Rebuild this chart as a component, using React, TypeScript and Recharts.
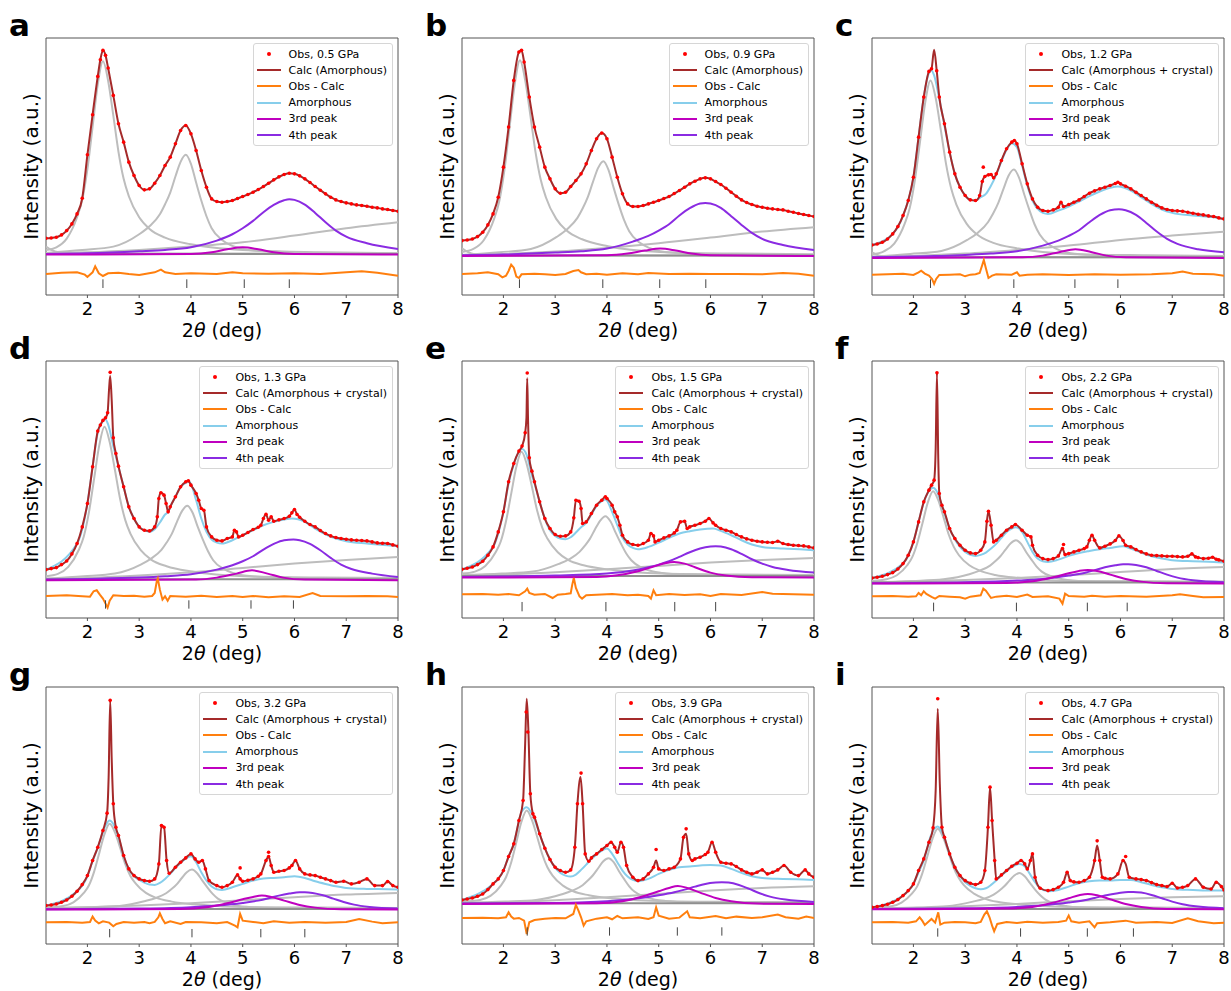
import React from "react"
import { ComposedChart, Line, XAxis, YAxis, ReferenceLine, ReferenceArea, Legend } from "recharts"

// [2θ (deg), intensity (a.u.), flag] — flag 1 = fit point with no observed dot
type Pt = number[]

const FONT = "DejaVu Sans, sans-serif"
const X_TICKS = [2, 3, 4, 5, 6, 7, 8]
const LETTERS = ["a", "b", "c", "d", "e", "f", "g", "h", "i"]
const PRESSURES = ["0.5", "0.9", "1.2", "1.3", "1.5", "2.2", "3.2", "3.9", "4.7"]

const OBS = "#ff0000"
const CALC = "#a52a2a"
const RESID = "#ff7f0e"
const AMORPH = "#87ceeb"
const THIRD = "#bf00bf"
const FOURTH = "#8a2be2"
const GRAY = "#bdbdbd"
const GRAY_BASE = "#8f8f8f"

// ---------- a : 0.5 GPa ----------
const calcA: Pt[] = [[1.2,170],[1.3,171],[1.4,173],[1.5,180],[1.6,193],[1.7,213],[1.8,243],[1.9,290],[2.0,420],[2.1,540],[2.2,655],[2.25,705],[2.3,733],[2.35,718],[2.4,680],[2.5,598],[2.6,513],[2.7,458],[2.8,398],[2.9,358],[3.0,328],[3.1,315],[3.2,318],[3.3,335],[3.4,358],[3.5,388],[3.6,413],[3.7,453],[3.8,493],[3.9,508],[4.0,483],[4.1,433],[4.2,373],[4.3,323],[4.4,288],[4.5,280],[4.6,278],[4.7,280],[4.8,283],[4.9,289],[5.0,295],[5.1,301],[5.2,308],[5.3,316],[5.4,325],[5.5,335],[5.6,345],[5.7,354],[5.8,361],[5.9,365],[6.0,363],[6.1,357],[6.2,348],[6.3,337],[6.4,325],[6.5,314],[6.6,303],[6.7,293],[6.8,285],[6.9,280],[7.0,276],[7.1,273],[7.2,270],[7.3,268],[7.4,266],[7.5,263],[7.6,261],[7.7,258],[7.8,256],[7.9,253],[8.0,251]]
const leftA: Pt[] = [[1.2,145],[1.3,135],[1.45,128],[1.8,125],[8,124]]
const gray1A: Pt[] = [[1.2,135],[1.4,143],[1.6,169],[1.8,233],[1.9,285],[2.0,377],[2.1,504],[2.2,631],[2.3,700],[2.4,642],[2.5,538],[2.6,429],[2.7,348],[2.8,296],[3.0,233],[3.2,198],[3.5,172],[4.0,152],[5.0,135],[6.5,128],[8.0,125]]
const gray2A: Pt[] = [[1.2,126],[1.9,135],[2.5,145],[3.0,182],[3.2,206],[3.4,242],[3.5,272],[3.6,307],[3.7,355],[3.8,399],[3.9,420],[4.0,393],[4.1,337],[4.2,283],[4.3,236],[4.4,200],[4.6,165],[4.8,147],[5.0,138],[5.5,130],[6.5,126],[8.0,124]]
const bgA: Pt[] = [[1.2,125],[2,128],[3,135],[4,145],[5,158],[6,178],[7,200],[8,218]]
const thirdA: Pt[] = [[1.2,121],[4.0,123],[4.4,128],[4.7,137],[5.0,143],[5.3,137],[5.6,128],[6.0,123],[8,121]]
const fourthA: Pt[] = [[1.2,123],[2,125],[3,131],[3.5,135],[4,143],[4.5,163],[4.8,182],[5.0,200],[5.2,222],[5.4,248],[5.6,270],[5.8,284],[5.9,287],[6.0,285],[6.2,271],[6.4,246],[6.6,218],[6.8,193],[7.0,175],[7.4,155],[8.0,138]]
const residA: Pt[] = [[1.2,63],[1.5,67],[1.8,68],[1.95,61],[2.0,54],[2.1,68],[2.15,86],[2.22,65],[2.3,57],[2.4,65],[2.6,67],[2.8,63],[3.0,60],[3.3,68],[3.42,76],[3.5,68],[3.7,63],[4.0,65],[4.5,63],[4.8,68],[5.0,65],[5.5,64],[6.0,65],[6.5,63],[7.0,68],[7.3,71],[7.6,67],[8.0,58]]
const marksA = [2.30, 3.92, 5.03, 5.90]

// ---------- b : 0.9 GPa ----------
const calcB: Pt[] = [[1.2,163],[1.3,165],[1.4,168],[1.5,175],[1.6,188],[1.7,210],[1.8,243],[1.9,293],[2.0,383],[2.1,503],[2.2,643],[2.3,728],[2.35,733],[2.4,698],[2.5,593],[2.6,503],[2.7,443],[2.8,383],[2.9,348],[3.0,318],[3.1,305],[3.2,308],[3.3,325],[3.4,343],[3.5,363],[3.6,393],[3.7,433],[3.8,468],[3.9,485],[4.0,468],[4.1,413],[4.2,353],[4.3,303],[4.4,273],[4.5,265],[4.6,265],[4.7,268],[4.8,273],[4.9,278],[5.0,283],[5.1,289],[5.2,295],[5.3,304],[5.4,313],[5.5,323],[5.6,333],[5.7,341],[5.8,348],[5.9,351],[6.0,348],[6.1,340],[6.2,331],[6.3,320],[6.4,308],[6.5,296],[6.6,285],[6.7,277],[6.8,271],[6.9,266],[7.0,263],[7.1,260],[7.2,258],[7.3,256],[7.4,255],[7.5,251],[7.6,248],[7.7,244],[7.8,241],[7.9,238],[8.0,235]]
const leftB: Pt[] = [[1.2,140],[1.3,130],[1.45,122],[1.8,119],[8,118]]
const gray1B: Pt[] = [[1.2,129],[1.42,138],[1.62,164],[1.82,228],[1.92,281],[2.02,375],[2.12,504],[2.22,633],[2.32,703],[2.42,644],[2.52,539],[2.62,428],[2.72,346],[2.82,293],[3.02,228],[3.22,193],[3.52,167],[4.02,146],[5.02,129],[6.5,124],[8,122]]
const gray2B: Pt[] = [[1.2,120],[1.93,128],[2.53,138],[3.03,174],[3.23,197],[3.43,231],[3.53,259],[3.63,293],[3.73,339],[3.83,381],[3.93,401],[4.03,375],[4.13,321],[4.23,270],[4.33,225],[4.43,191],[4.63,157],[4.83,140],[5.03,131],[5.53,124],[6.53,120],[8,118]]
const bgB: Pt[] = [[1.2,120],[2,123],[3,130],[4,141],[5,155],[6,172],[7,190],[8,203]]
const thirdB: Pt[] = [[1.2,117],[4.0,119],[4.4,124],[4.73,133],[5.03,139],[5.33,133],[5.63,124],[6.0,119],[8,117]]
const fourthB: Pt[] = [[1.2,119],[2,121],[3,127],[3.5,131],[4,139],[4.5,160],[4.8,177],[5.0,193],[5.2,212],[5.4,238],[5.6,260],[5.8,274],[5.9,276],[6.0,274],[6.2,261],[6.4,236],[6.6,210],[6.8,186],[7.0,168],[7.4,150],[8.0,135]]
const residB: Pt[] = [[1.2,63],[1.5,65],[1.7,68],[1.9,62],[1.98,53],[2.05,58],[2.1,72],[2.15,91],[2.2,82],[2.25,55],[2.3,51],[2.35,62],[2.6,64],[2.8,62],[3.0,60],[3.2,63],[3.35,72],[3.45,75],[3.5,68],[3.6,62],[3.8,64],[4.0,61],[4.3,65],[4.6,62],[4.8,66],[5.2,63],[5.6,64],[6.0,63],[6.5,63],[7.0,62],[7.4,66],[7.7,64],[8.0,58]]
const marksB = [2.31, 3.92, 5.02, 5.91]

// ---------- c : 1.2 GPa ----------
const calcC: Pt[] = [[1.2,150],[1.3,153],[1.4,158],[1.5,168],[1.6,183],[1.7,205],[1.8,238],[1.9,283],[2.0,353],[2.1,473],[2.2,593],[2.3,670],[2.35,678],[2.4,735,1],[2.45,672],[2.5,593],[2.6,513],[2.7,428],[2.8,363],[2.9,323],[3.0,298],[3.1,285],[3.2,283],[3.28,298],[3.33,340],[3.38,355],[3.45,360],[3.5,361],[3.55,351],[3.6,363],[3.7,403],[3.8,438],[3.9,458],[3.95,463],[4.0,453],[4.1,393],[4.2,333],[4.3,288],[4.4,263],[4.5,253],[4.6,251],[4.7,255],[4.8,263],[4.85,278],[4.9,265],[5.0,271],[5.1,278],[5.2,285],[5.3,295],[5.4,305],[5.5,312],[5.6,318],[5.7,323],[5.8,328],[5.9,334],[5.95,338],[6.0,333],[6.1,326],[6.2,318],[6.3,308],[6.4,298],[6.5,288],[6.6,278],[6.7,269],[6.8,261],[6.9,256],[7.0,253],[7.1,252],[7.2,251],[7.3,248],[7.4,245],[7.5,242],[7.6,240],[7.7,237],[7.8,235],[7.9,231],[8.0,228]]
const obsExtraC: Pt[] = [[3.35,383]]
const amorphC: Pt[] = [[1.2,150],[1.6,183],[1.8,238],[2.0,353],[2.1,473],[2.2,593],[2.3,665],[2.35,673],[2.4,658],[2.5,588],[2.6,508],[2.7,428],[2.8,363],[2.9,323],[3.0,298],[3.1,285],[3.2,283],[3.3,293],[3.4,303],[3.5,328],[3.6,360],[3.7,400],[3.8,436],[3.9,455],[4.0,443],[4.1,388],[4.2,328],[4.3,283],[4.4,258],[4.5,246],[4.6,243],[4.8,253],[5.0,265],[5.2,280],[5.4,296],[5.6,310],[5.8,321],[5.95,325],[6.2,313],[6.4,293],[6.6,273],[6.8,256],[7.0,246],[7.4,238],[7.8,233],[8.0,228]]
const leftC: Pt[] = [[1.2,128],[1.35,118],[1.6,114],[8,113]]
const gray1C: Pt[] = [[1.2,122],[1.43,131],[1.63,154],[1.83,213],[1.93,261],[2.03,346],[2.13,462],[2.23,579],[2.33,643],[2.43,590],[2.53,494],[2.63,393],[2.73,319],[2.83,271],[3.03,213],[3.23,181],[3.53,157],[4.03,139],[5.03,123],[6.5,119],[8,117]]
const gray2C: Pt[] = [[1.2,115],[1.94,123],[2.54,132],[3.04,165],[3.24,186],[3.44,218],[3.54,244],[3.64,276],[3.74,318],[3.84,358],[3.94,376],[4.04,352],[4.14,302],[4.24,255],[4.34,212],[4.44,181],[4.64,149],[4.84,133],[5.04,125],[5.54,119],[6.54,115],[8,113]]
const bgC: Pt[] = [[1.2,114],[2,117],[3,124],[4,135],[5,148],[6,165],[7,178],[8,190]]
const thirdC: Pt[] = [[1.2,111],[4.1,113],[4.5,118],[4.83,129],[5.13,137],[5.43,129],[5.73,118],[6.1,113],[8,111]]
const fourthC: Pt[] = [[1.2,113],[2,115],[3,120],[3.5,124],[4,131],[4.5,148],[4.8,163],[5.0,177],[5.2,194],[5.4,218],[5.6,240],[5.8,254],[5.97,257],[6.1,254],[6.3,240],[6.5,216],[6.7,190],[6.9,168],[7.1,153],[7.5,137],[8.0,128]]
const residC: Pt[] = [[1.2,61],[1.5,62],[1.8,64],[2.0,60],[2.1,68],[2.15,73],[2.22,64],[2.3,58],[2.36,48],[2.4,33],[2.44,48],[2.5,60],[2.7,61],[2.9,62],[3.0,56],[3.1,61],[3.2,62],[3.28,66],[3.33,90],[3.36,105],[3.4,80],[3.45,51],[3.52,58],[3.6,62],[3.9,61],[4.0,68],[4.05,58],[4.2,61],[4.5,62],[5.0,60],[5.5,62],[6.0,61],[6.6,62],[7.0,65],[7.2,70],[7.4,64],[7.8,62],[8.0,58]]
const marksC = [2.33, 3.94, 5.12, 5.95]

// ---------- d : 1.3 GPa ----------
const calcD: Pt[] = [[1.2,145],[1.3,148],[1.4,151],[1.5,160],[1.6,171],[1.7,192],[1.8,223],[1.9,273],[2.0,343],[2.1,453],[2.2,560],[2.25,578],[2.3,592],[2.35,600],[2.39,615],[2.42,690,1],[2.44,725,1],[2.47,650,1],[2.5,540],[2.55,493],[2.6,455],[2.7,393],[2.8,333],[2.9,298],[3.0,273],[3.1,263],[3.2,261],[3.3,273],[3.35,303],[3.38,358],[3.42,375],[3.48,368],[3.52,343],[3.56,318],[3.6,333],[3.7,363],[3.8,393],[3.9,408],[3.95,411],[4.0,398],[4.1,373],[4.15,353],[4.2,328],[4.25,323],[4.3,273],[4.4,243],[4.5,233],[4.6,231],[4.7,238],[4.8,243],[4.84,263],[4.88,258],[4.92,243],[5.0,248],[5.1,256],[5.2,265],[5.3,272],[5.35,278],[5.4,298],[5.45,311],[5.5,293],[5.55,303],[5.6,290],[5.7,294],[5.8,298],[5.9,305],[5.95,315],[6.0,325],[6.05,310],[6.1,302],[6.2,290],[6.3,280],[6.4,273],[6.5,262],[6.6,253],[6.7,246],[6.8,241],[6.9,238],[7.0,236],[7.1,234],[7.2,233],[7.3,232],[7.4,231],[7.5,228],[7.6,225],[7.7,224],[7.8,223],[7.9,219],[8.0,215]]
const obsExtraD: Pt[] = [[2.44,736]]
const amorphD: Pt[] = [[1.2,145],[1.8,223],[2.0,343],[2.1,453],[2.2,556],[2.3,590],[2.34,596],[2.4,580],[2.5,515],[2.6,453],[2.7,393],[2.8,333],[2.9,298],[3.0,273],[3.1,263],[3.2,258],[3.3,266],[3.4,286],[3.5,310],[3.56,318],[3.6,333],[3.7,363],[3.8,393],[3.9,405],[3.97,408],[4.1,353],[4.2,298],[4.3,258],[4.4,235],[4.5,226],[4.6,223],[4.8,233],[5.0,248],[5.2,263],[5.4,278],[5.6,288],[5.8,295],[5.95,298],[6.2,288],[6.4,268],[6.6,251],[6.8,238],[7.0,230],[7.4,223],[7.8,218],[8.0,215]]
const gray1D: Pt[] = [[1.2,125],[1.43,132],[1.63,153],[1.83,203],[1.93,244],[2.03,317],[2.13,418],[2.23,518],[2.33,573],[2.43,527],[2.53,445],[2.63,358],[2.73,294],[2.83,253],[3.03,203],[3.23,175],[3.53,155],[4.03,139],[5.03,125],[6.5,121],[8,120]]
const gray2D: Pt[] = [[1.2,118],[1.93,125],[2.53,133],[3.03,160],[3.23,178],[3.43,204],[3.53,226],[3.63,252],[3.73,288],[3.83,321],[3.93,336],[4.03,316],[4.13,274],[4.23,235],[4.33,200],[4.43,173],[4.63,147],[4.83,134],[5.03,127],[5.53,122],[6.53,118],[8,117]]
const bgD: Pt[] = [[1.2,117],[2,120],[3,127],[4,137],[5,150],[6,163],[7,174],[8,183]]
const thirdD: Pt[] = [[1.2,113],[4.1,115],[4.5,121],[4.88,133],[5.18,143],[5.48,133],[5.78,121],[6.2,115],[8,113]]
const fourthD: Pt[] = [[1.2,115],[2,117],[3,121],[3.5,125],[4,131],[4.5,145],[4.8,158],[5.0,170],[5.2,185],[5.4,205],[5.6,222],[5.8,233],[5.98,235],[6.1,233],[6.3,222],[6.5,203],[6.7,180],[6.9,160],[7.1,147],[7.5,133],[8.0,123]]
const residD: Pt[] = [[1.2,66],[1.6,68],[1.9,65],[2.05,64],[2.12,80],[2.18,83],[2.24,70],[2.3,58],[2.36,40],[2.39,31],[2.43,52],[2.5,68],[2.7,66],[2.9,67],[3.1,64],[3.25,66],[3.3,75],[3.34,110],[3.36,118],[3.4,85],[3.45,55],[3.5,65],[3.55,52],[3.6,66],[3.9,64],[4.2,67],[4.5,63],[4.8,66],[5.0,63],[5.2,66],[5.5,62],[5.8,65],[6.1,63],[6.35,75],[6.5,66],[7.0,65],[7.4,66],[7.8,65],[8.0,63]]
const marksD = [2.35, 3.96, 5.16, 5.98]

// ---------- e : 1.5 GPa ----------
const calcE: Pt[] = [[1.2,146],[1.3,149],[1.4,153],[1.5,160],[1.6,170],[1.7,188],[1.8,213],[1.9,258],[2.0,318],[2.1,408],[2.2,463],[2.3,500],[2.36,515],[2.42,555],[2.445,600,1],[2.46,718,1],[2.475,600,1],[2.5,480],[2.55,440],[2.6,408],[2.7,348],[2.8,298],[2.9,268],[3.0,250],[3.1,245],[3.2,246],[3.3,258],[3.36,300],[3.4,353],[3.46,350],[3.5,328],[3.53,283],[3.6,288],[3.7,313],[3.8,338],[3.9,353],[3.97,363],[4.0,358],[4.1,338],[4.15,318],[4.2,303],[4.25,278],[4.3,248],[4.4,228],[4.5,220],[4.6,218],[4.7,223],[4.8,233],[4.85,253],[4.9,246],[4.93,228],[5.0,233],[5.1,240],[5.2,246],[5.3,255],[5.35,263],[5.42,288],[5.5,290],[5.55,268],[5.6,273],[5.7,278],[5.8,283],[5.9,290],[5.97,298],[6.05,285],[6.1,278],[6.2,268],[6.3,263],[6.4,258],[6.5,250],[6.6,243],[6.7,237],[6.8,233],[6.9,230],[7.0,228],[7.1,227],[7.2,226],[7.3,230],[7.4,223],[7.5,220],[7.6,218],[7.7,217],[7.8,216],[7.9,213],[8.0,210]]
const obsExtraE: Pt[] = [[2.46,734]]
const amorphE: Pt[] = [[1.2,146],[1.8,213],[2.0,318],[2.1,403],[2.2,460],[2.3,498],[2.36,506],[2.45,488],[2.55,428],[2.6,403],[2.7,348],[2.8,298],[2.9,263],[3.0,246],[3.1,238],[3.2,236],[3.3,242],[3.4,256],[3.5,272],[3.6,285],[3.7,310],[3.8,336],[3.9,350],[3.97,355],[4.1,318],[4.2,278],[4.3,240],[4.4,220],[4.5,210],[4.6,206],[4.8,213],[5.0,226],[5.2,240],[5.4,253],[5.6,260],[5.8,265],[6.05,268],[6.2,261],[6.4,248],[6.6,233],[6.8,220],[7.0,213],[7.4,208],[7.8,205],[8.0,203]]
const gray1E: Pt[] = [[1.2,133],[1.45,139],[1.65,156],[1.85,197],[1.95,230],[2.05,290],[2.15,372],[2.25,453],[2.35,498],[2.45,461],[2.55,394],[2.65,323],[2.75,271],[2.85,238],[3.05,197],[3.25,174],[3.55,158],[4.05,145],[5.05,133],[6.5,130],[8,129]]
const gray2E: Pt[] = [[1.2,128],[1.97,133],[2.57,139],[3.07,162],[3.27,176],[3.47,198],[3.57,216],[3.67,237],[3.77,266],[3.87,292],[3.97,305],[4.07,289],[4.17,255],[4.27,223],[4.37,194],[4.47,173],[4.67,151],[4.87,140],[5.07,135],[5.57,130],[6.57,127],[8,127]]
const bgE: Pt[] = [[1.2,127],[2,130],[3,137],[4,146],[5,156],[6,166],[7,174],[8,180]]
const thirdE: Pt[] = [[1.2,121],[3.8,123],[4.2,128],[4.6,140],[4.9,154],[5.1,163],[5.3,168],[5.5,163],[5.7,152],[6.0,136],[6.3,127],[6.8,122],[8,121]]
const fourthE: Pt[] = [[1.2,123],[2,124],[3,127],[4,133],[4.5,142],[4.8,152],[5.0,160],[5.2,170],[5.4,183],[5.6,197],[5.8,208],[6.0,214],[6.1,215],[6.2,214],[6.4,206],[6.6,192],[6.8,176],[7.0,163],[7.2,153],[7.5,144],[8.0,136]]
const residE: Pt[] = [[1.2,71],[1.6,72],[1.9,70],[2.1,72],[2.3,68],[2.42,80],[2.46,88],[2.5,75],[2.6,70],[2.8,72],[2.95,60],[3.05,70],[3.2,72],[3.3,74],[3.33,100],[3.36,120],[3.4,90],[3.47,65],[3.52,58],[3.6,68],[3.8,70],[4.1,72],[4.4,68],[4.6,70],[4.8,66],[4.85,58],[4.9,83],[4.95,68],[5.2,72],[5.5,69],[5.8,71],[6.0,66],[6.2,72],[6.6,69],[7.0,78],[7.2,73],[7.6,71],[8.0,70]]
const marksE = [2.36, 3.98, 5.31, 6.10]

// ---------- f : 2.2 GPa ----------
const calcF: Pt[] = [[1.2,120],[1.3,122],[1.4,125],[1.5,130],[1.6,136],[1.7,147],[1.8,163],[1.9,188],[2.0,228],[2.1,288],[2.2,348],[2.3,383],[2.35,398],[2.4,413],[2.43,508,1],[2.455,733,1],[2.48,478,1],[2.5,373],[2.55,338],[2.6,318],[2.7,268],[2.8,238],[2.9,218],[3.0,203],[3.1,195],[3.2,193],[3.3,203],[3.38,228],[3.42,290],[3.45,320],[3.5,278],[3.55,228],[3.6,233],[3.7,248],[3.8,263],[3.9,273],[3.97,280],[4.1,263],[4.2,248],[4.27,243],[4.3,218],[4.4,188],[4.5,178],[4.6,175],[4.7,178],[4.8,186],[4.88,208],[4.93,190],[5.0,193],[5.1,198],[5.2,203],[5.3,208],[5.35,213],[5.4,233],[5.45,248],[5.5,233],[5.6,210],[5.7,215],[5.8,222],[5.9,232],[5.97,246],[6.05,232],[6.1,218],[6.2,213],[6.3,205],[6.4,198],[6.5,192],[6.6,188],[6.7,187],[6.8,186],[6.9,185],[7.0,185],[7.1,184],[7.2,183],[7.3,185],[7.38,192],[7.45,183],[7.5,181],[7.6,178],[7.7,179],[7.78,182],[7.85,176],[7.9,174],[8.0,170]]
const obsExtraF: Pt[] = [[2.455,735],[4.9,220]]
const amorphF: Pt[] = [[1.2,120],[1.8,163],[2.0,228],[2.1,288],[2.2,346],[2.3,380],[2.38,390],[2.45,380],[2.55,338],[2.7,268],[2.8,236],[2.9,213],[3.0,198],[3.1,189],[3.2,186],[3.3,189],[3.4,196],[3.5,208],[3.6,222],[3.7,240],[3.8,258],[3.9,268],[3.98,272],[4.1,258],[4.2,228],[4.3,198],[4.4,178],[4.5,170],[4.6,168],[4.8,175],[5.0,186],[5.2,195],[5.4,201],[5.6,206],[5.8,210],[6.05,215],[6.2,208],[6.4,196],[6.6,185],[6.8,178],[7.0,173],[7.4,170],[7.8,168],[8.0,166]]
const gray1F: Pt[] = [[1.2,111],[1.48,116],[1.68,128],[1.88,158],[1.98,183],[2.08,227],[2.18,287],[2.28,347],[2.38,380],[2.48,353],[2.58,303],[2.68,251],[2.78,213],[2.88,188],[3.08,158],[3.28,142],[3.58,129],[4.08,120],[5.08,111],[6.5,110],[8,109]]
const gray2F: Pt[] = [[1.2,107],[1.98,111],[2.58,116],[3.08,131],[3.28,142],[3.48,157],[3.58,170],[3.68,185],[3.78,205],[3.88,224],[3.98,233],[4.08,222],[4.18,197],[4.28,175],[4.38,154],[4.48,139],[4.68,124],[4.88,116],[5.08,112],[5.58,109],[8,107]]
const bgF: Pt[] = [[1.2,106],[2,109],[3,114],[4,120],[5,128],[6,138],[7,147],[8,153]]
const thirdF: Pt[] = [[1.2,103],[3.8,105],[4.3,110],[4.7,122],[5.0,134],[5.2,141],[5.37,144],[5.55,141],[5.8,130],[6.1,117],[6.4,109],[6.9,104],[8,103]]
const fourthF: Pt[] = [[1.2,104],[3,107],[4,112],[4.5,117],[5.0,127],[5.3,135],[5.5,143],[5.7,152],[5.9,158],[6.05,161],[6.15,161],[6.3,159],[6.5,152],[6.7,141],[6.9,130],[7.1,121],[7.4,113],[8.0,107]]
const residF: Pt[] = [[1.2,65],[1.6,66],[1.9,64],[2.05,65],[2.1,75],[2.15,68],[2.2,80],[2.25,72],[2.35,63],[2.42,58],[2.5,66],[2.7,64],[2.9,62],[3.0,58],[3.1,64],[3.3,68],[3.35,88],[3.4,82],[3.5,60],[3.6,64],[3.8,67],[4.0,63],[4.2,70],[4.3,63],[4.6,65],[4.82,58],[4.88,43],[4.93,73],[5.0,66],[5.3,64],[5.45,67],[5.7,64],[6.0,66],[6.5,64],[7.0,68],[7.15,71],[7.4,66],[7.6,62],[8.0,63]]
const marksF = [2.39, 3.99, 5.36, 6.13]

// ---------- g : 3.2 GPa ----------
const calcG: Pt[] = [[1.2,115],[1.3,117],[1.4,120],[1.5,125],[1.6,132],[1.7,143],[1.8,158],[1.9,178],[2.0,205],[2.1,250],[2.2,290],[2.3,340],[2.38,392],[2.41,500,1],[2.44,730],[2.47,550,1],[2.5,420],[2.55,350],[2.6,325],[2.7,265],[2.8,225],[2.9,205],[3.0,195],[3.1,190],[3.2,188],[3.3,195],[3.38,240],[3.43,355],[3.48,350],[3.53,250],[3.58,212],[3.7,230],[3.8,245],[3.9,258],[4.0,270],[4.08,255],[4.15,245],[4.22,250],[4.28,225],[4.35,190],[4.5,175],[4.6,170],[4.7,175],[4.8,185],[4.9,207],[4.95,195],[5.0,188],[5.1,191],[5.2,195],[5.3,203],[5.35,210],[5.45,250],[5.5,262],[5.55,235],[5.6,215],[5.7,218],[5.8,220],[5.9,228],[5.95,235],[6.02,250],[6.1,225],[6.2,210],[6.3,207],[6.4,205],[6.5,200],[6.6,195],[6.7,190],[6.8,185],[6.95,188],[7.1,180],[7.25,185],[7.4,195],[7.55,175],[7.7,175],[7.8,187],[7.9,175],[8.0,170]]
const obsExtraG: Pt[] = [[4.95,228],[5.5,275]]
const amorphG: Pt[] = [[1.2,115],[1.8,158],[1.9,175],[2.0,203],[2.1,248],[2.2,288],[2.35,355],[2.43,370],[2.5,360],[2.6,322],[2.7,263],[2.8,224],[2.9,203],[3.0,192],[3.1,184],[3.2,178],[3.3,177],[3.4,183],[3.5,195],[3.6,210],[3.7,228],[3.8,243],[3.9,256],[4.0,263],[4.1,245],[4.2,215],[4.3,190],[4.4,172],[4.5,164],[4.6,162],[4.8,170],[5.0,180],[5.2,190],[5.4,196],[5.6,198],[5.8,200],[6.0,203],[6.2,198],[6.4,188],[6.6,180],[6.8,173],[7.0,168],[7.4,165],[7.8,164],[8.0,163]]
const gray1G: Pt[] = [[1.2,109],[1.53,114],[1.73,125],[1.93,153],[2.03,176],[2.13,217],[2.23,273],[2.33,329],[2.43,360],[2.53,335],[2.63,289],[2.73,240],[2.83,204],[2.93,182],[3.13,153],[3.33,138],[3.63,127],[4.13,118],[5.13,110],[6.5,109],[8,108]]
const gray2G: Pt[] = [[1.2,106],[2.02,110],[2.62,114],[3.12,129],[3.32,138],[3.52,152],[3.62,164],[3.72,178],[3.82,197],[3.92,215],[4.02,223],[4.12,212],[4.22,190],[4.32,169],[4.42,150],[4.52,136],[4.72,122],[4.92,114],[5.12,111],[5.62,108],[8,106]]
const bgG: Pt[] = [[1.2,108],[2,110],[3,115],[4,122],[5,131],[6,140],[7,148],[8,153]]
const thirdG: Pt[] = [[1.2,103],[3.8,105],[4.3,110],[4.7,122],[5.0,134],[5.2,141],[5.37,145],[5.55,141],[5.8,130],[6.1,117],[6.4,109],[6.9,104],[8,103]]
const fourthG: Pt[] = [[1.2,104],[3,106],[4,110],[4.5,115],[5.0,123],[5.3,130],[5.5,137],[5.7,145],[5.9,151],[6.1,155],[6.2,155],[6.35,153],[6.55,146],[6.75,136],[6.95,126],[7.15,118],[7.45,111],[8.0,106]]
const residG: Pt[] = [[1.2,65],[1.6,66],[1.9,64],[2.05,66],[2.1,82],[2.15,70],[2.22,62],[2.3,68],[2.42,64],[2.5,53],[2.56,60],[2.7,66],[2.9,64],[3.1,66],[3.2,62],[3.3,66],[3.37,80],[3.4,92],[3.45,75],[3.5,62],[3.6,68],[3.8,60],[3.9,66],[4.2,65],[4.5,62],[4.7,66],[4.85,55],[4.9,50],[4.95,90],[5.0,70],[5.2,66],[5.4,62],[5.6,68],[5.9,64],[6.2,66],[6.6,64],[7.0,66],[7.25,75],[7.5,67],[7.7,62],[8.0,65]]
const marksG = [2.43, 4.02, 5.35, 6.20]

// ---------- h : 3.9 GPa ----------
const calcH: Pt[] = [[1.2,132],[1.3,135],[1.4,138],[1.5,143],[1.6,150],[1.7,163],[1.8,180],[1.9,195],[2.0,220],[2.1,262],[2.2,300],[2.3,370],[2.38,430],[2.42,600,1],[2.45,735,1],[2.48,650,1],[2.52,450],[2.57,390],[2.6,380],[2.7,330],[2.8,287],[2.9,253],[3.0,230],[3.1,220],[3.2,215],[3.3,222],[3.38,290],[3.43,420],[3.49,500,1],[3.53,420],[3.58,270],[3.65,248],[3.7,258],[3.8,270],[3.9,283],[4.0,295],[4.08,305],[4.15,290],[4.2,275],[4.27,305],[4.32,290],[4.38,235],[4.5,200],[4.6,190],[4.7,195],[4.8,210],[4.9,230],[4.95,250,1],[5.0,225],[5.1,220],[5.2,225],[5.3,230],[5.42,255],[5.48,320],[5.53,330,1],[5.58,270],[5.65,250],[5.7,255],[5.8,260],[5.9,268],[5.95,275],[6.03,305],[6.1,275],[6.2,245],[6.3,242],[6.4,240],[6.5,232],[6.6,222],[6.7,215],[6.8,210],[6.9,215],[7.0,222],[7.1,210],[7.2,215],[7.3,222],[7.42,235],[7.55,215],[7.7,205],[7.83,222],[7.9,210],[8.0,200]]
const obsExtraH: Pt[] = [[2.44,695],[2.47,635],[3.5,512],[4.95,283],[5.53,345]]
const amorphH: Pt[] = [[1.2,132],[1.8,180],[1.9,195],[2.0,220],[2.1,262],[2.2,300],[2.35,395],[2.45,410],[2.55,390],[2.7,330],[2.8,287],[2.9,253],[3.0,228],[3.1,213],[3.2,205],[3.3,202],[3.4,208],[3.5,222],[3.6,238],[3.7,255],[3.8,268],[3.9,280],[4.0,286],[4.1,270],[4.2,245],[4.3,220],[4.4,202],[4.5,192],[4.6,188],[4.8,195],[5.0,210],[5.2,222],[5.4,230],[5.6,232],[5.8,235],[6.0,237],[6.2,235],[6.4,225],[6.6,213],[6.8,203],[7.0,198],[7.4,195],[7.8,193],[8.0,192]]
const gray1H: Pt[] = [[1.2,127],[1.55,132],[1.75,144],[1.95,175],[2.05,200],[2.15,244],[2.25,305],[2.35,367],[2.45,400],[2.55,372],[2.65,322],[2.75,269],[2.85,230],[2.95,205],[3.15,175],[3.35,158],[3.65,146],[4.15,136],[5.15,128],[6.5,126],[8,125]]
const gray2H: Pt[] = [[1.2,123],[2.03,127],[2.63,132],[3.13,149],[3.33,160],[3.53,176],[3.63,190],[3.73,206],[3.83,227],[3.93,248],[4.03,257],[4.13,245],[4.23,219],[4.33,195],[4.43,173],[4.53,157],[4.73,141],[4.93,133],[5.13,129],[5.63,125],[8,123]]
const bgH: Pt[] = [[1.2,122],[2,125],[3,131],[4,140],[5,150],[6,160],[7,168],[8,173]]
const thirdH: Pt[] = [[1.2,120],[3.8,122],[4.3,128],[4.7,143],[5.0,158],[5.2,168],[5.37,174],[5.55,168],[5.8,154],[6.1,138],[6.4,128],[6.9,121],[8,120]]
const fourthH: Pt[] = [[1.2,121],[3,123],[4,128],[4.5,135],[5.0,146],[5.3,155],[5.5,163],[5.7,172],[5.9,180],[6.1,184],[6.22,185],[6.35,184],[6.55,177],[6.75,165],[6.95,152],[7.15,142],[7.45,133],[8.0,126]]
const residH: Pt[] = [[1.2,78],[1.6,79],[1.9,77],[2.05,80],[2.1,95],[2.15,82],[2.2,76],[2.3,78],[2.4,70],[2.45,30],[2.5,65],[2.6,72],[2.8,76],[3.0,78],[3.2,77],[3.35,90],[3.4,117],[3.45,100],[3.5,80],[3.55,55],[3.6,68],[3.8,76],[4.0,80],[4.1,74],[4.2,84],[4.3,77],[4.6,80],[4.8,75],[4.9,80],[4.95,110],[5.0,85],[5.2,76],[5.4,79],[5.55,98],[5.6,80],[5.8,77],[6.1,84],[6.3,77],[6.5,82],[6.8,78],[7.0,80],[7.3,88],[7.45,80],[7.7,76],[7.85,82],[8.0,78]]
const marksH = [2.46, 4.05, 5.36, 6.22]

// ---------- i : 4.7 GPa ----------
const calcI: Pt[] = [[1.2,110],[1.3,112],[1.4,115],[1.5,119],[1.6,125],[1.7,133],[1.8,145],[1.9,160],[2.0,180],[2.1,220],[2.2,255],[2.3,305],[2.38,348],[2.43,460,1],[2.47,705,1],[2.51,480,1],[2.55,350],[2.6,320],[2.7,270],[2.8,230],[2.9,205],[3.0,190],[3.1,182],[3.2,178],[3.3,185],[3.38,220],[3.44,350],[3.48,470],[3.52,370],[3.57,250],[3.6,195],[3.7,207],[3.8,220],[3.9,233],[4.0,242],[4.08,250],[4.15,240],[4.2,225],[4.26,250],[4.3,270],[4.35,200],[4.45,167],[4.6,160],[4.7,163],[4.8,170],[4.9,185],[4.97,215],[5.03,190],[5.1,186],[5.2,185],[5.3,190],[5.4,200],[5.5,250],[5.55,295,1],[5.6,250],[5.65,200],[5.7,197],[5.8,195],[5.95,210],[6.05,250],[6.1,240,1],[6.17,200],[6.3,195],[6.4,193],[6.5,190],[6.6,184],[6.7,178],[6.8,175],[6.9,172],[7.0,182],[7.1,168],[7.2,170],[7.3,175],[7.45,195],[7.6,170],[7.75,165],[7.85,185],[7.95,172],[8.0,162]]
const obsExtraI: Pt[] = [[2.47,735],[5.55,309],[6.1,262]]
const amorphI: Pt[] = [[1.2,110],[1.8,145],[2.0,180],[2.1,215],[2.2,250],[2.35,330],[2.47,352],[2.6,318],[2.7,268],[2.8,230],[2.9,204],[3.0,185],[3.1,174],[3.2,167],[3.3,164],[3.4,167],[3.5,177],[3.6,190],[3.7,205],[3.8,218],[3.9,230],[4.0,238],[4.05,240],[4.15,233],[4.25,210],[4.35,185],[4.45,167],[4.6,158],[4.8,162],[5.0,172],[5.2,182],[5.4,188],[5.6,190],[5.8,190],[6.0,192],[6.2,192],[6.4,185],[6.6,177],[6.8,170],[7.0,165],[7.4,162],[7.8,160],[8.0,160]]
const gray1I: Pt[] = [[1.2,109],[1.57,113],[1.77,124],[1.97,151],[2.07,172],[2.17,211],[2.27,263],[2.37,316],[2.47,345],[2.57,321],[2.67,278],[2.77,232],[2.87,199],[2.97,177],[3.17,151],[3.37,136],[3.67,125],[4.17,117],[5.17,110],[6.5,109],[8,108]]
const gray2I: Pt[] = [[1.2,106],[2.05,109],[2.65,113],[3.15,127],[3.35,135],[3.55,148],[3.65,159],[3.75,172],[3.85,189],[3.95,205],[4.05,213],[4.15,203],[4.25,183],[4.35,163],[4.45,146],[4.55,133],[4.75,120],[4.95,114],[5.15,110],[5.65,108],[8,106]]
const bgI: Pt[] = [[1.2,105],[2,108],[3,113],[4,120],[5,128],[6,135],[7,140],[8,143]]
const thirdI: Pt[] = [[1.2,104],[3.8,106],[4.3,111],[4.7,124],[5.0,137],[5.2,146],[5.37,150],[5.55,146],[5.8,134],[6.1,120],[6.4,111],[6.9,105],[8,104]]
const fourthI: Pt[] = [[1.2,105],[3,107],[4,111],[4.5,116],[5.0,124],[5.3,131],[5.5,138],[5.7,145],[5.95,152],[6.15,156],[6.25,156],[6.4,154],[6.6,147],[6.8,137],[7.0,127],[7.2,119],[7.5,112],[8.0,107]]
const residI: Pt[] = [[1.2,65],[1.6,66],[1.9,64],[2.05,68],[2.12,80],[2.17,70],[2.22,57],[2.3,68],[2.35,75],[2.42,64],[2.48,95],[2.52,58],[2.6,64],[2.8,66],[3.0,65],[3.2,62],[3.3,66],[3.37,88],[3.42,98],[3.47,80],[3.52,55],[3.56,38],[3.62,60],[3.8,66],[4.0,63],[4.2,67],[4.5,64],[4.8,66],[4.95,70],[5.0,85],[5.05,68],[5.2,64],[5.4,68],[5.5,50],[5.55,62],[5.8,65],[6.1,70],[6.3,64],[6.7,66],[7.0,63],[7.3,77],[7.5,68],[7.8,62],[8.0,64]]
const marksI = [2.47, 4.07, 5.36, 6.25]

// flat gray floor of each panel, and the vertical span of its peak markers
const BASES = [123, 118, 113, 116, 126, 106, 105, 122, 105]
const MARK_LO = [21, 21, 21, 28, 20, 20, 20, 25, 22]
const MARK_HI = [47, 47, 47, 53, 48, 46, 45, 50, 47]

interface PanelData {
  calc: Pt[]
  obsExtra: Pt[]
  amorph?: Pt[]
  grays: Pt[][]
  third: Pt[]
  fourth: Pt[]
  resid: Pt[]
  marks: number[]
}

const PANELS: PanelData[] = [
  { calc: calcA, obsExtra: [], grays: [leftA, gray1A, gray2A, bgA], third: thirdA, fourth: fourthA, resid: residA, marks: marksA },
  { calc: calcB, obsExtra: [], grays: [leftB, gray1B, gray2B, bgB], third: thirdB, fourth: fourthB, resid: residB, marks: marksB },
  { calc: calcC, obsExtra: obsExtraC, amorph: amorphC, grays: [leftC, gray1C, gray2C, bgC], third: thirdC, fourth: fourthC, resid: residC, marks: marksC },
  { calc: calcD, obsExtra: obsExtraD, amorph: amorphD, grays: [gray1D, gray2D, bgD], third: thirdD, fourth: fourthD, resid: residD, marks: marksD },
  { calc: calcE, obsExtra: obsExtraE, amorph: amorphE, grays: [gray1E, gray2E, bgE], third: thirdE, fourth: fourthE, resid: residE, marks: marksE },
  { calc: calcF, obsExtra: obsExtraF, amorph: amorphF, grays: [gray1F, gray2F, bgF], third: thirdF, fourth: fourthF, resid: residF, marks: marksF },
  { calc: calcG, obsExtra: obsExtraG, amorph: amorphG, grays: [gray1G, gray2G, bgG], third: thirdG, fourth: fourthG, resid: residG, marks: marksG },
  { calc: calcH, obsExtra: obsExtraH, amorph: amorphH, grays: [gray1H, gray2H, bgH], third: thirdH, fourth: fourthH, resid: residH, marks: marksH },
  { calc: calcI, obsExtra: obsExtraI, amorph: amorphI, grays: [gray1I, gray2I, bgI], third: thirdI, fourth: fourthI, resid: residI, marks: marksI },
]

// layout (px)
const PLOT_W = 352
const PLOT_H = 257
const AX_W = 44
const AX_H = 47
const M_TOP = 8
const M_RIGHT = 14
const COL_X = [46, 462, 872]
const ROW_Y = [38, 361, 687]

const toXY = (pts: Pt[]) => pts.map((p) => ({ x: p[0], y: p[1] }))

function XTitle(props: any) {
  const vb = props.viewBox
  return (
    <text x={vb.x + vb.width / 2} y={vb.y + 42} textAnchor="middle" fontSize={19} fontFamily={FONT} fill="#000">
      2<tspan fontStyle="italic">θ</tspan> (deg)
    </text>
  )
}

function YTitle(props: any) {
  const vb = props.viewBox
  const x = vb.x + vb.width - 8
  const y = vb.y + vb.height / 2
  return (
    <text x={x} y={y} transform={`rotate(-90 ${x} ${y})`} textAnchor="middle" fontSize={20} fontFamily={FONT} fill="#000">
      Intensity (a.u.)
    </text>
  )
}

function LegendBox({ idx }: { idx: number }) {
  const rows = [
    { dot: true, color: OBS, text: `Obs, ${PRESSURES[idx]} GPa` },
    { dot: false, color: CALC, text: idx < 2 ? "Calc (Amorphous)" : "Calc (Amorphous + crystal)" },
    { dot: false, color: RESID, text: "Obs - Calc" },
    { dot: false, color: AMORPH, text: "Amorphous" },
    { dot: false, color: THIRD, text: "3rd peak" },
    { dot: false, color: FOURTH, text: "4th peak" },
  ]
  return (
    <div
      style={{
        border: "1px solid #d6d6d6",
        borderRadius: 3,
        background: "rgba(255,255,255,0.85)",
        padding: "2px 5px 2px 3px",
        fontFamily: FONT,
        fontSize: 11,
        color: "#000",
      }}
    >
      {rows.map((r) => (
        <div key={r.text} style={{ display: "flex", alignItems: "center", height: 16.2, whiteSpace: "nowrap" }}>
          <svg width={24} height={8} style={{ flex: "none" }}>
            {r.dot ? <circle cx={12} cy={4} r={2} fill={r.color} /> : <line x1={0} y1={4} x2={24} y2={4} stroke={r.color} strokeWidth={2} />}
          </svg>
          <span style={{ marginLeft: 8 }}>{r.text}</span>
        </div>
      ))}
    </div>
  )
}

function PanelChart({ idx }: { idx: number }) {
  const p = PANELS[idx]
  const left = COL_X[idx % 3]
  const top = ROW_Y[Math.floor(idx / 3)]
  const base = BASES[idx]
  const obs = [...p.calc.filter((q) => q[2] !== 1), ...p.obsExtra].sort((a, b) => a[0] - b[0])
  const floor: Pt[] = [[1.2, base], [8, base]]

  return (
    <div style={{ position: "absolute", left: left - AX_W, top: top - M_TOP }}>
      <ComposedChart
        width={AX_W + PLOT_W + M_RIGHT}
        height={M_TOP + PLOT_H + AX_H}
        margin={{ top: M_TOP, right: M_RIGHT, bottom: 0, left: 0 }}
      >
        <XAxis
          type="number"
          dataKey="x"
          domain={[1.2, 8]}
          allowDataOverflow
          ticks={X_TICKS}
          interval={0}
          height={AX_H}
          axisLine={false}
          tickLine={{ stroke: "#555" }}
          tickSize={3}
          tickMargin={4}
          tick={{ fontSize: 18, fill: "#000", fontFamily: FONT }}
          label={XTitle}
        />
        <YAxis
          type="number"
          domain={[0, 770]}
          allowDataOverflow
          width={AX_W}
          tick={false}
          tickLine={false}
          axisLine={false}
          label={YTitle}
        />
        {p.grays.map((g, k) => (
          <Line key={`g${k}`} data={toXY(g)} dataKey="y" type="monotone" stroke={GRAY} strokeWidth={2} dot={false} isAnimationActive={false} />
        ))}
        <Line data={toXY(floor)} dataKey="y" type="linear" stroke={GRAY_BASE} strokeWidth={2} dot={false} isAnimationActive={false} />
        <Line data={toXY(p.fourth)} dataKey="y" type="monotone" stroke={FOURTH} strokeWidth={2} dot={false} isAnimationActive={false} />
        <Line data={toXY(p.third)} dataKey="y" type="monotone" stroke={THIRD} strokeWidth={2} dot={false} isAnimationActive={false} />
        {p.amorph && (
          <Line data={toXY(p.amorph)} dataKey="y" type="monotone" stroke={AMORPH} strokeWidth={2} dot={false} isAnimationActive={false} />
        )}
        <Line data={toXY(p.calc)} dataKey="y" type="monotone" stroke={CALC} strokeWidth={2} dot={false} isAnimationActive={false} />
        <Line
          data={toXY(obs)}
          dataKey="y"
          stroke="none"
          dot={{ r: 1.8, fill: OBS, stroke: OBS, strokeWidth: 0 }}
          isAnimationActive={false}
        />
        <Line data={toXY(p.resid)} dataKey="y" type="linear" stroke={RESID} strokeWidth={2} dot={false} isAnimationActive={false} />
        {p.marks.map((m) => (
          <ReferenceLine
            key={m}
            segment={[{ x: m, y: MARK_LO[idx] }, { x: m, y: MARK_HI[idx] }]}
            stroke="#444"
            strokeWidth={1}
          />
        ))}
        <ReferenceArea x1={1.2} x2={8} y1={0} y2={770} fill="none" stroke="#555" strokeWidth={1} ifOverflow="visible" />
        <Legend
          layout="horizontal"
          verticalAlign="middle"
          align="center"
          content={() => <LegendBox idx={idx} />}
          wrapperStyle={{ top: M_TOP + 5, right: M_RIGHT + 5, left: "auto", width: "auto", height: "auto" }}
        />
      </ComposedChart>
    </div>
  )
}

export default function App() {
  return (
    <div style={{ position: "absolute", left: 0, top: 0, width: 1231, height: 991, background: "#fff", overflow: "hidden" }}>
      {PANELS.map((_, i) => (
        <PanelChart key={i} idx={i} />
      ))}
      <svg width={1231} height={991} style={{ position: "absolute", left: 0, top: 0, pointerEvents: "none" }}>
        {LETTERS.map((l, i) => (
          <text
            key={l}
            x={COL_X[i % 3] - 37}
            y={ROW_Y[Math.floor(i / 3)] - 2}
            fontSize={31}
            fontWeight="bold"
            fontFamily={FONT}
            fill="#000"
          >
            {l}
          </text>
        ))}
      </svg>
    </div>
  )
}
